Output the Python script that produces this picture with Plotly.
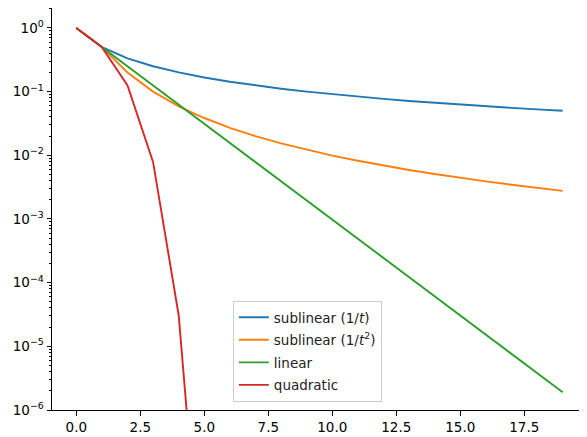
import plotly.graph_objects as go

t_vals = list(range(20))
sublinear_1 = [1.0, 0.5, 0.3333, 0.25, 0.2, 0.1667, 0.1429, 0.125, 0.1111, 0.1,
               0.0909, 0.0833, 0.0769, 0.0714, 0.0667, 0.0625, 0.0588, 0.0556, 0.0526, 0.05]
sublinear_2 = [1.0, 0.5, 0.2, 0.1, 0.0588, 0.0385, 0.0270, 0.0200, 0.0154, 0.0122,
               0.00990, 0.00820, 0.00690, 0.00588, 0.00508, 0.00442, 0.00389, 0.00345, 0.00308, 0.00276]
linear = [1.0, 0.5, 0.25, 0.125, 0.0625, 0.03125, 0.015625, 0.0078125, 0.00390625, 0.001953,
          0.0009766, 0.0004883, 0.0002441, 0.0001221, 6.104e-5, 3.052e-5, 1.526e-5, 7.629e-6, 3.815e-6, 1.907e-6]
quadratic_t = [0, 1, 2, 3, 4, 5, 6]
quadratic = [1.0, 0.5, 0.125, 0.0078125, 3.0518e-5, 4.6566e-10, 1.0842e-19]

names = ["sublinear (1/<i>t</i>)", "sublinear (1/<i>t</i><sup>2</sup>)", "linear", "quadratic"]
colors = ["#1f77b4", "#ff7f0e", "#2ca02c", "#d62728"]

ytick_vals = [1e0, 1e-1, 1e-2, 1e-3, 1e-4, 1e-5, 1e-6]
ytick_text = ["10<sup>0</sup>", "10<sup>\u22121</sup>", "10<sup>\u22122</sup>", "10<sup>\u22123</sup>",
              "10<sup>\u22124</sup>", "10<sup>\u22125</sup>", "10<sup>\u22126</sup>"]

fig = go.Figure()
series = [(t_vals, sublinear_1), (t_vals, sublinear_2), (t_vals, linear), (quadratic_t, quadratic)]
for i, ((xs, ys), n, c) in enumerate(zip(series, names, colors)):
    fig.add_trace(go.Scatter(x=xs, y=ys, mode="lines", name=n, legendgroup=f"g{i}",
                             line=dict(color=c, width=1.9)))

minor_vals = []
for e in range(-6, 1):
    for m in range(2, 10):
        minor_vals.append(m * 10 ** e)

font = dict(family="DejaVu Sans", size=13.5, color="black")
fig.update_layout(
    width=579, height=429,
    margin=dict(l=44, r=0, t=0, b=27, autoexpand=False),
    plot_bgcolor="white", paper_bgcolor="white",
    font=font,
    showlegend=True,
    legend=dict(x=0.338, y=0.02, xanchor="left", yanchor="bottom",
                bordercolor="#cccccc", borderwidth=1, bgcolor="rgba(255,255,255,0.8)",
                font=dict(family="DejaVu Sans", size=13.5, color="#222"),
                tracegroupgap=2, itemwidth=30),
    xaxis=dict(range=[-0.95, 19.95], tickmode="array", automargin=False,
               tickvals=[0, 2.5, 5, 7.5, 10, 12.5, 15, 17.5],
               ticktext=["0.0", "2.5", "5.0", "7.5", "10.0", "12.5", "15.0", "17.5"],
               ticks="outside", ticklen=4.5, tickwidth=1, tickcolor="black",
               showgrid=False, zeroline=False, showline=True, linecolor="black",
               linewidth=1, mirror=True),
    yaxis=dict(type="log", range=[-6, 0.313], tickmode="array", automargin=False,
               tickvals=ytick_vals, ticktext=ytick_text,
               ticks="outside", ticklen=4.5, tickwidth=1, tickcolor="black",
               showgrid=False, zeroline=False, showline=True, linecolor="black",
               linewidth=1,
               minor=dict(tickmode="array", tickvals=minor_vals, ticks="outside",
                          ticklen=2.5, tickwidth=0.8, tickcolor="black", showgrid=False)),
)

fig.write_html("out.html")
